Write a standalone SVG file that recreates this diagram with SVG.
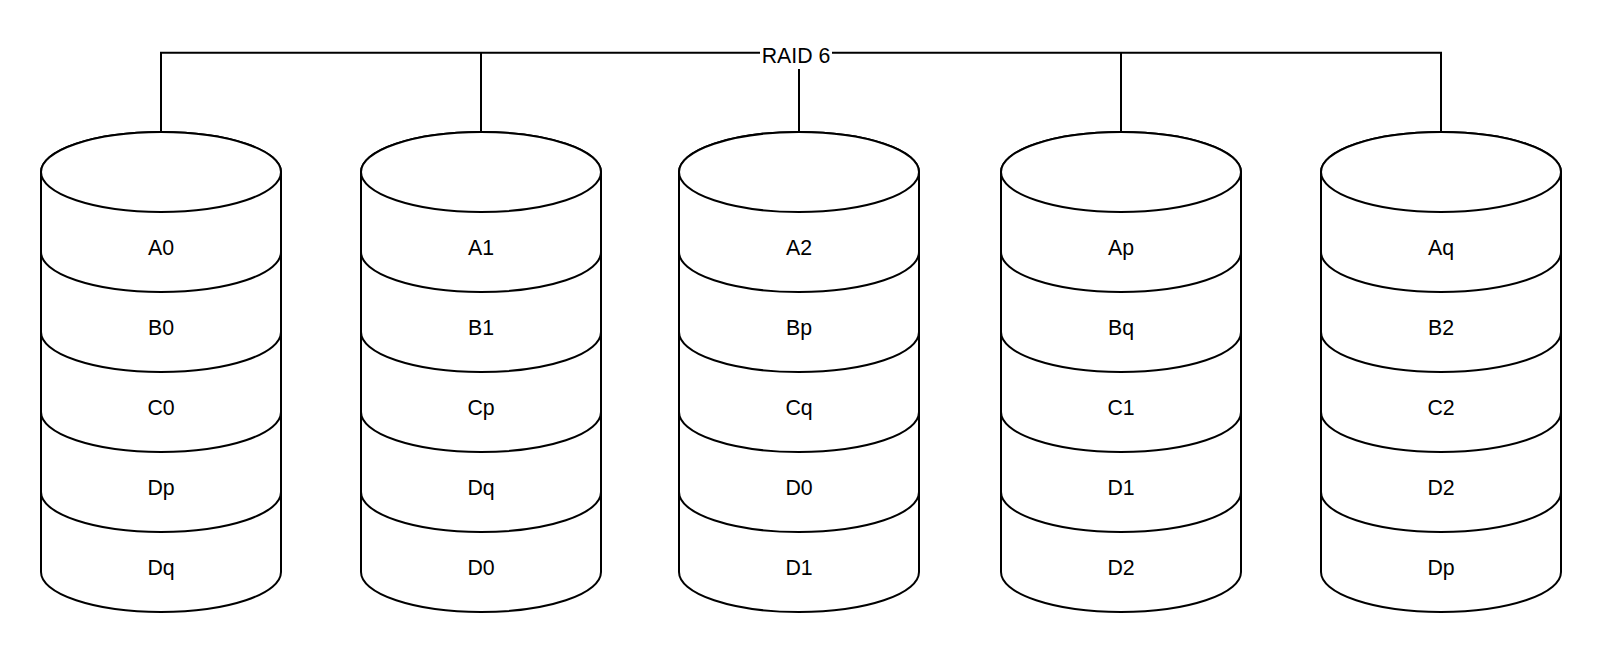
<svg xmlns="http://www.w3.org/2000/svg" width="1602" height="654" viewBox="0 0 1602 654">
<style>
.seg{fill:#fff;stroke:#000;stroke-width:2}
.lbl{font-family:"Liberation Sans",Arial,sans-serif;font-size:21.3px;fill:#000;text-anchor:middle}
.con{fill:none;stroke:#000;stroke-width:2}
</style>
<defs>
<path id="body" d="M-120,0 A120,40 0 0 1 120,0 L120,80 A120,40 0 0 1 -120,80 Z"/>
</defs>
<g id="connectors">
<path class="con" d="M161,133 V52.7 H1441 V133"/>
<path class="con" d="M481,52.7 V133"/>
<path class="con" d="M1121,52.7 V133"/>
<path class="con" d="M799,52.7 V133"/>
<rect x="760" y="40" width="72" height="29" fill="#fff"/>
<text class="lbl" x="796" y="62.7">RAID 6</text>
</g>
<g id="disk1" transform="translate(161,0)">
<g id="d1s4"><use href="#body" class="seg" y="492"/><text class="lbl" y="575.3">Dq</text></g>
<g id="d1s3"><use href="#body" class="seg" y="412"/><text class="lbl" y="495.3">Dp</text></g>
<g id="d1s2"><use href="#body" class="seg" y="332"/><text class="lbl" y="415.3">C0</text></g>
<g id="d1s1"><use href="#body" class="seg" y="252"/><text class="lbl" y="335.3">B0</text></g>
<g id="d1s0"><use href="#body" class="seg" y="172"/><ellipse class="seg" cx="0" cy="172" rx="120" ry="40"/><text class="lbl" y="255.3">A0</text></g>
</g>
<g id="disk2" transform="translate(481,0)">
<g id="d2s4"><use href="#body" class="seg" y="492"/><text class="lbl" y="575.3">D0</text></g>
<g id="d2s3"><use href="#body" class="seg" y="412"/><text class="lbl" y="495.3">Dq</text></g>
<g id="d2s2"><use href="#body" class="seg" y="332"/><text class="lbl" y="415.3">Cp</text></g>
<g id="d2s1"><use href="#body" class="seg" y="252"/><text class="lbl" y="335.3">B1</text></g>
<g id="d2s0"><use href="#body" class="seg" y="172"/><ellipse class="seg" cx="0" cy="172" rx="120" ry="40"/><text class="lbl" y="255.3">A1</text></g>
</g>
<g id="disk3" transform="translate(799,0)">
<g id="d3s4"><use href="#body" class="seg" y="492"/><text class="lbl" y="575.3">D1</text></g>
<g id="d3s3"><use href="#body" class="seg" y="412"/><text class="lbl" y="495.3">D0</text></g>
<g id="d3s2"><use href="#body" class="seg" y="332"/><text class="lbl" y="415.3">Cq</text></g>
<g id="d3s1"><use href="#body" class="seg" y="252"/><text class="lbl" y="335.3">Bp</text></g>
<g id="d3s0"><use href="#body" class="seg" y="172"/><ellipse class="seg" cx="0" cy="172" rx="120" ry="40"/><text class="lbl" y="255.3">A2</text></g>
</g>
<g id="disk4" transform="translate(1121,0)">
<g id="d4s4"><use href="#body" class="seg" y="492"/><text class="lbl" y="575.3">D2</text></g>
<g id="d4s3"><use href="#body" class="seg" y="412"/><text class="lbl" y="495.3">D1</text></g>
<g id="d4s2"><use href="#body" class="seg" y="332"/><text class="lbl" y="415.3">C1</text></g>
<g id="d4s1"><use href="#body" class="seg" y="252"/><text class="lbl" y="335.3">Bq</text></g>
<g id="d4s0"><use href="#body" class="seg" y="172"/><ellipse class="seg" cx="0" cy="172" rx="120" ry="40"/><text class="lbl" y="255.3">Ap</text></g>
</g>
<g id="disk5" transform="translate(1441,0)">
<g id="d5s4"><use href="#body" class="seg" y="492"/><text class="lbl" y="575.3">Dp</text></g>
<g id="d5s3"><use href="#body" class="seg" y="412"/><text class="lbl" y="495.3">D2</text></g>
<g id="d5s2"><use href="#body" class="seg" y="332"/><text class="lbl" y="415.3">C2</text></g>
<g id="d5s1"><use href="#body" class="seg" y="252"/><text class="lbl" y="335.3">B2</text></g>
<g id="d5s0"><use href="#body" class="seg" y="172"/><ellipse class="seg" cx="0" cy="172" rx="120" ry="40"/><text class="lbl" y="255.3">Aq</text></g>
</g>
</svg>
